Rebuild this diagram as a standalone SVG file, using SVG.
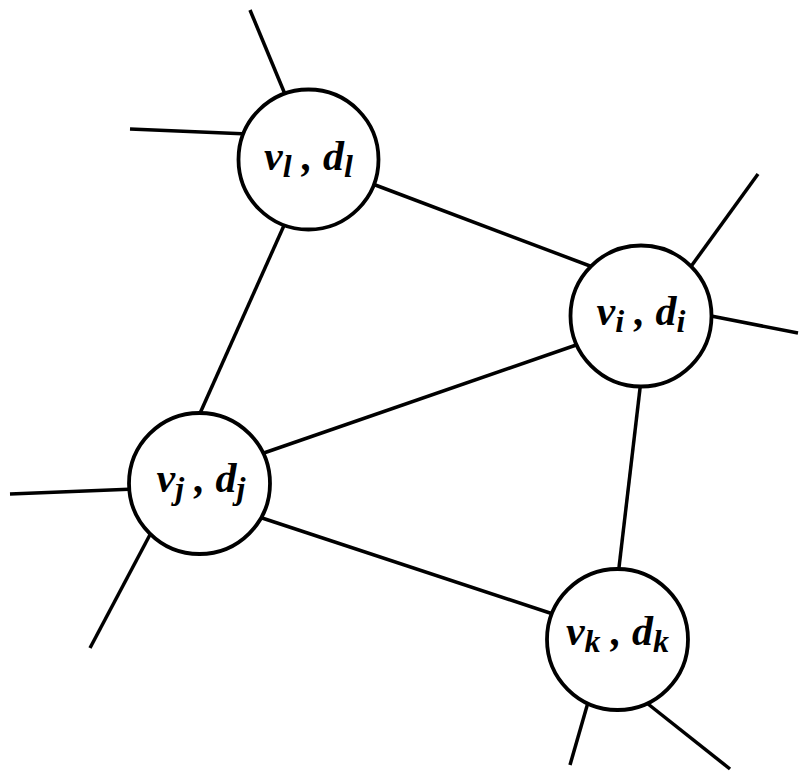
<svg xmlns="http://www.w3.org/2000/svg" width="812" height="784" viewBox="0 0 812 784">
<style>
.e{stroke:#000;stroke-width:3.5;fill:none;stroke-linecap:butt}
.n{fill:#fff;stroke:#000;stroke-width:3.8}
.t{font-family:"Liberation Serif","Times New Roman",serif;font-weight:bold;font-style:italic;font-size:42px;fill:#000}
.s{font-size:32px}
</style>
<rect width="812" height="784" fill="#fff"/>
<g id="connectors">
<line class="e" x1="370" y1="183" x2="598" y2="269"/>
<line class="e" x1="286" y1="221" x2="197" y2="420"/>
<line class="e" x1="258" y1="455" x2="582" y2="343"/>
<line class="e" x1="256" y1="516" x2="559" y2="616"/>
<line class="e" x1="641" y1="380" x2="618" y2="576"/>
<line class="e" x1="250" y1="10" x2="287" y2="99"/>
<line class="e" x1="130" y1="129" x2="248" y2="134"/>
<line class="e" x1="758" y1="174" x2="687" y2="272"/>
<line class="e" x1="706" y1="315" x2="798" y2="333"/>
<line class="e" x1="10" y1="494" x2="135" y2="489"/>
<line class="e" x1="90" y1="648" x2="153" y2="529"/>
<line class="e" x1="570" y1="765" x2="589" y2="699"/>
<line class="e" x1="730" y1="769" x2="643" y2="700"/>
</g>
<g id="node-l">
<circle class="n" cx="308.5" cy="159.5" r="70"/>
<text class="t" x="308.5" y="170" text-anchor="middle">v<tspan class="s" dy="7">l</tspan><tspan dy="-7"> , d</tspan><tspan class="s" dy="7">l</tspan></text>
</g>
<g id="node-i">
<circle class="n" cx="641" cy="316" r="70.5"/>
<text class="t" x="641" y="325" text-anchor="middle">v<tspan class="s" dy="7">i</tspan><tspan dy="-7"> , d</tspan><tspan class="s" dy="7">i</tspan></text>
</g>
<g id="node-j">
<circle class="n" cx="199.5" cy="483.5" r="70.5"/>
<text class="t" x="201" y="492" text-anchor="middle">v<tspan class="s" dy="7">j</tspan><tspan dy="-7"> , d</tspan><tspan class="s" dy="7">j</tspan></text>
</g>
<g id="node-k">
<circle class="n" cx="617.5" cy="639.5" r="70.5"/>
<text class="t" x="617.5" y="645" text-anchor="middle">v<tspan class="s" dy="7">k</tspan><tspan dy="-7"> , d</tspan><tspan class="s" dy="7">k</tspan></text>
</g>
</svg>
